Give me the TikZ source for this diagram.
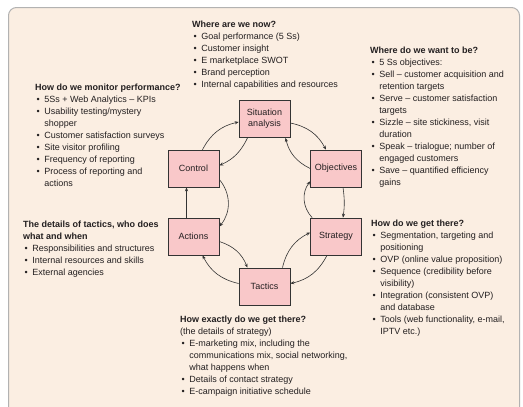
\documentclass[tikz,border=0pt]{standalone}
\usepackage{fontspec}
\setmainfont{Liberation Sans}
\usetikzlibrary{arrows.meta}
\definecolor{panel}{HTML}{FBEEE2}
\definecolor{stagefill}{HTML}{F9C8C9}
\definecolor{ink}{HTML}{231F20}
\newcommand{\hd}[1]{\multicolumn{2}{@{}l@{}}{\bfseries #1}}
\newcommand{\bl}{\textbullet}
\tikzset{
  stage/.style={draw=black!80, line width=0.7pt, fill=stagefill, minimum width=51pt,
    minimum height=37pt, inner sep=1pt, align=center, text=ink,
    font=\fontsize{9}{11}\selectfont},
  link/.style={draw=black!80, line width=0.6pt, -{Stealth[length=4pt,width=3.2pt]}},
  notes/.style={anchor=north west, inner sep=0pt, text=ink,
    font=\fontsize{9}{12}\selectfont}
}
\begin{document}
\begin{tikzpicture}[x=1pt,y=1pt]
  \useasboundingbox (0,0) rectangle (523,-407);
  \draw[draw=black!30, line width=1pt, fill=panel, rounded corners=8pt]
    (8.5,-7.5) rectangle (519.5,-420);
  % the six stages
  \foreach \name/\x/\y/\txt in {situation/264.5/119/{Situation\\analysis},
      control/193.5/168.5/Control, objectives/336/168.5/Objectives,
      actions/193.5/236.5/Actions, strategy/336/236.5/Strategy,
      tactics/264.5/286.5/Tactics}
    \node[stage] (\name) at (\x,-\y) {\txt};
  % outer ring
  \draw[link] ([xshift=9pt]control.north) to[bend left=25] ([yshift=-3pt]situation.west);
  \draw[link] ([yshift=-4pt]situation.east) to[bend left=25] ([xshift=-10pt]objectives.north);
  \draw[link] ([xshift=7pt]objectives.south) to[bend left=8] ([xshift=7pt]strategy.north);
  \draw[link] ([xshift=-9pt]strategy.south) to[bend left=25] ([yshift=3pt]tactics.east);
  \draw[link] ([yshift=3pt]tactics.west) to[bend left=25] ([xshift=9pt]actions.south);
  \draw[link] ([xshift=-7pt]actions.north) -- ([xshift=-7pt]control.south);
  % inner ring
  \draw[link] ([xshift=-17pt]situation.south) to[bend left=20] ([yshift=3pt]control.east);
  \draw[link] ([yshift=-11pt]control.east) to[bend left=40] ([yshift=10pt]actions.east);
  \draw[link] ([yshift=-5pt]actions.east) to[bend left=25] ([xshift=-17pt]tactics.north);
  \draw[link] ([xshift=18pt]tactics.north) to[bend left=25] ([yshift=4pt]strategy.west);
  \draw[link] ([xshift=2pt]strategy.north west) to[bend left=40] ([yshift=6pt]objectives.south west);
  \draw[link] (objectives.west) to[bend left=25] ([xshift=21pt]situation.south);
  % notes
  \node[notes] (now) at (192,-19.3) {\begin{tabular}{@{\hspace{1.5pt}}l@{\hspace{4.5pt}}l@{}}
    \hd{Where are we now?}\\
    \bl & Goal performance (5 Ss)\\
    \bl & Customer insight\\
    \bl & E marketplace SWOT\\
    \bl & Brand perception\\
    \bl & Internal capabilities and resources
  \end{tabular}};
  \node[notes] (want) at (370,-44.8) {\begin{tabular}{@{\hspace{1.5pt}}l@{\hspace{4.5pt}}l@{}}
    \hd{Where do we want to be?}\\
    \bl & 5 Ss objectives:\\
    \bl & Sell -- customer acquisition and\\
        & retention targets\\
    \bl & Serve -- customer satisfaction\\
        & targets\\
    \bl & Sizzle -- site stickiness, visit\\
        & duration\\
    \bl & Speak -- trialogue; number of\\
        & engaged customers\\
    \bl & Save -- quantified efficiency\\
        & gains
  \end{tabular}};
  \node[notes] (monitor) at (35,-81.8) {\begin{tabular}{@{\hspace{1.5pt}}l@{\hspace{4.5pt}}l@{}}
    \hd{How do we monitor performance?}\\
    \bl & 5Ss + Web Analytics -- KPIs\\
    \bl & Usability testing/mystery\\
        & shopper\\
    \bl & Customer satisfaction surveys\\
    \bl & Site visitor profiling\\
    \bl & Frequency of reporting\\
    \bl & Process of reporting and\\
        & actions
  \end{tabular}};
  \node[notes] (who) at (23,-218.8) {\begin{tabular}{@{\hspace{1.5pt}}l@{\hspace{4.5pt}}l@{}}
    \hd{The details of tactics, who does}\\
    \hd{what and when}\\
    \bl & Responsibilities and structures\\
    \bl & Internal resources and skills\\
    \bl & External agencies
  \end{tabular}};
  \node[notes] (how) at (371,-217.8) {\begin{tabular}{@{\hspace{1.5pt}}l@{\hspace{4.5pt}}l@{}}
    \hd{How do we get there?}\\
    \bl & Segmentation, targeting and\\
        & positioning\\
    \bl & OVP (online value proposition)\\
    \bl & Sequence (credibility before\\
        & visibility)\\
    \bl & Integration (consistent OVP)\\
        & and database\\
    \bl & Tools (web functionality, e-mail,\\
        & IPTV etc.)
  \end{tabular}};
  \node[notes] (exactly) at (180,-314.3) {\begin{tabular}{@{\hspace{1.5pt}}l@{\hspace{4.5pt}}l@{}}
    \hd{How exactly do we get there?}\\
    \multicolumn{2}{@{}l@{}}{(the details of strategy)}\\
    \bl & E-marketing mix, including the\\
        & communications mix, social networking,\\
        & what happens when\\
    \bl & Details of contact strategy\\
    \bl & E-campaign initiative schedule
  \end{tabular}};
\end{tikzpicture}
\end{document}
